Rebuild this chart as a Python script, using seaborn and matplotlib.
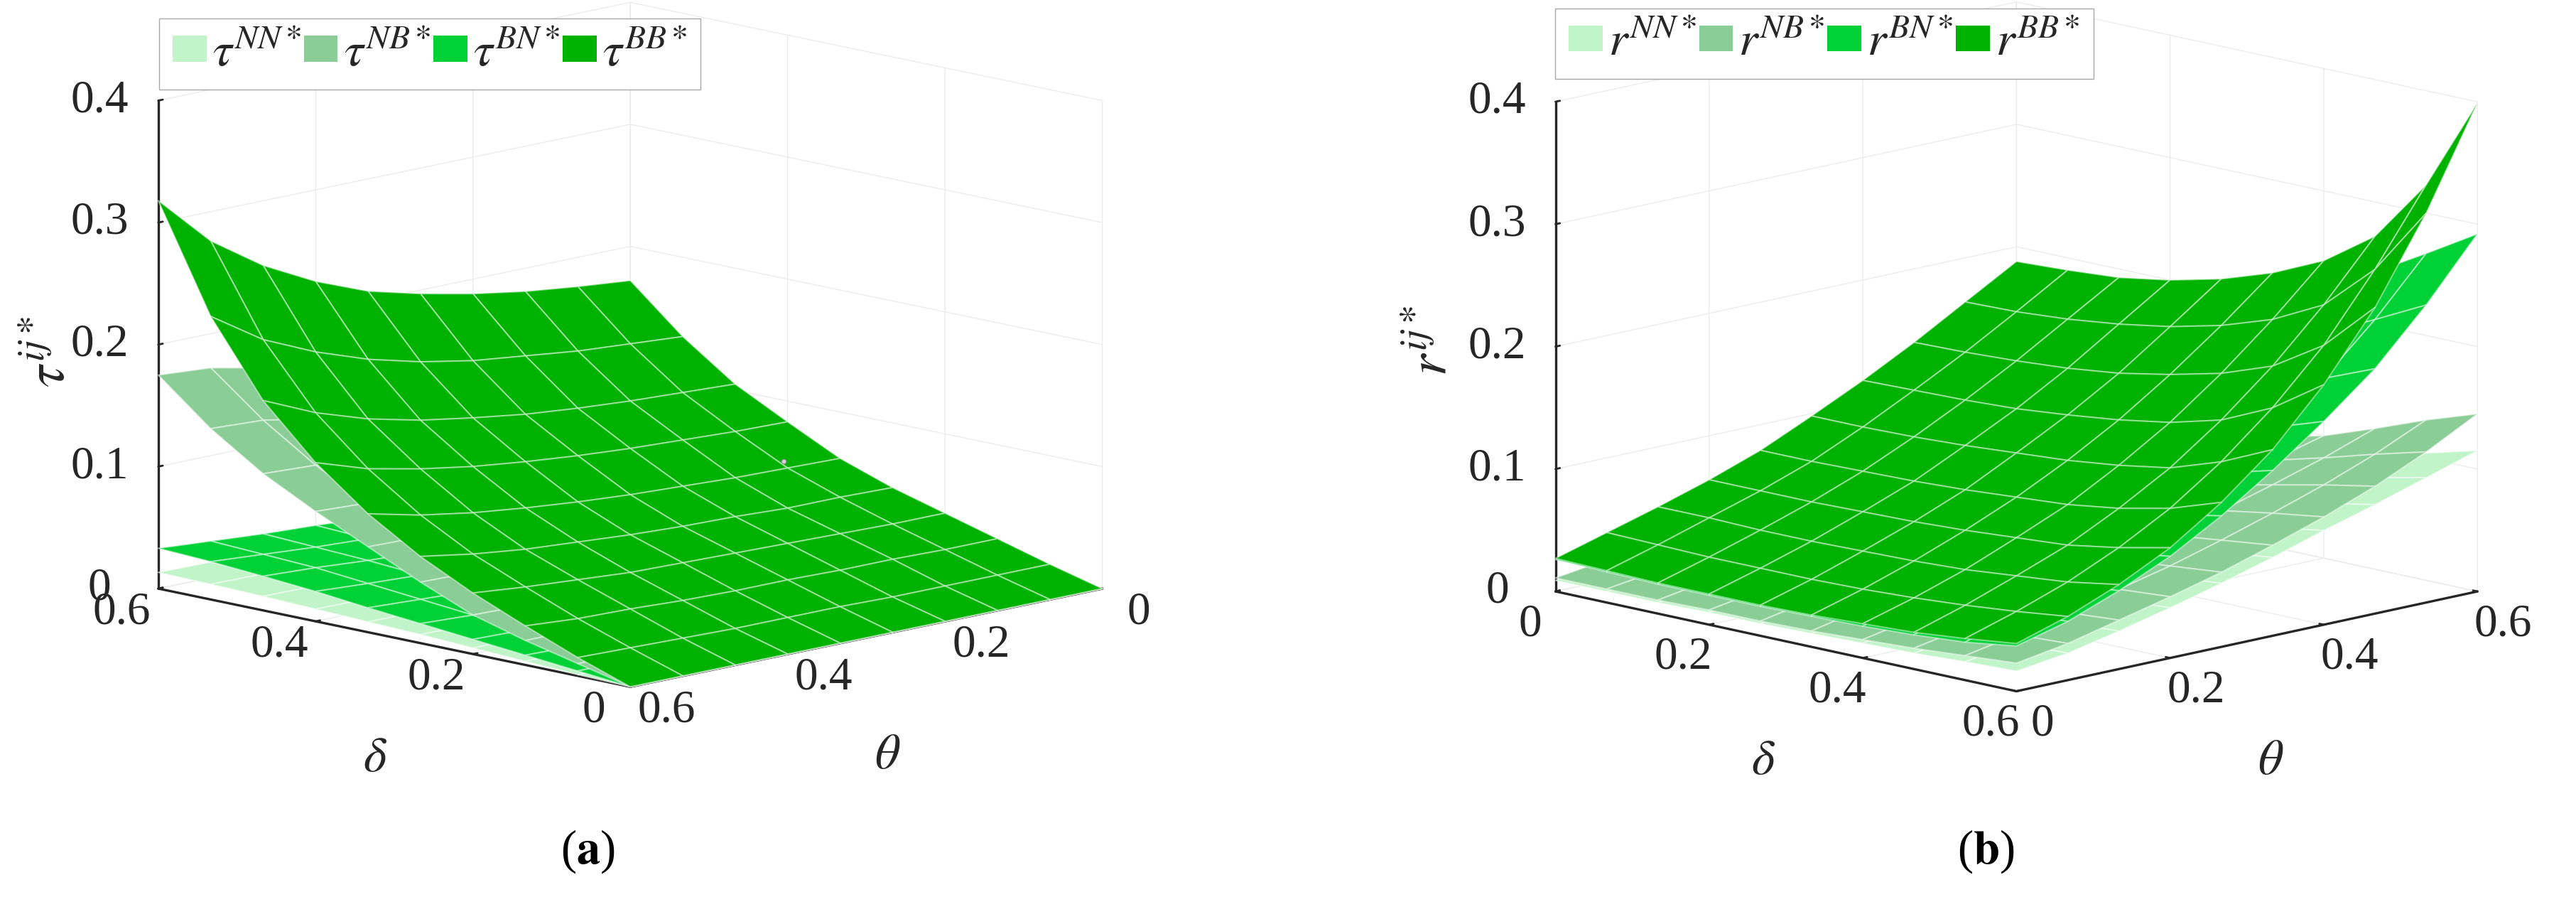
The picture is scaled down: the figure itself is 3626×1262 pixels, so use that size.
import numpy as np
import matplotlib
matplotlib.use('Agg')
import matplotlib.pyplot as plt
from matplotlib.patches import Patch
import seaborn as sns

# Grid of the surfaces (rows are delta, columns are theta)
deltas = [0, 0.0667, 0.1333, 0.2, 0.2667, 0.3333, 0.4, 0.4667, 0.5333, 0.6]
thetas = [0, 0.0667, 0.1333, 0.2, 0.2667, 0.3333, 0.4, 0.4667, 0.5333, 0.6]

# Panel (a) values
tau_nn = [
    [0]*10,
    [.0005,.0005,.0006,.0007,.0007,.0008,.0008,.0009,.001,.001],
    [.0014,.0016,.0018,.002,.0021,.0024,.0025,.0027,.0029,.003],
    [.0023,.0026,.003,.0034,.0036,.0039,.0041,.0045,.0048,.005],
    [.0032,.0037,.0042,.0047,.005,.0055,.0058,.0063,.0067,.007],
    [.0038,.0045,.0051,.0058,.0061,.0067,.007,.0077,.0082,.0085],
    [.0045,.0053,.006,.0068,.0071,.0079,.0083,.009,.0096,.010],
    [.0052,.0061,.0069,.0078,.0082,.0091,.0095,.0104,.0111,.0115],
    [.0056,.0066,.0075,.0085,.0089,.0099,.0103,.0113,.012,.0125],
    [.006,.007,.008,.009,.0095,.0105,.011,.012,.0128,.0133],
]
tau_nb = [
    [0]*10,
    [.007,.007,.007,.008,.008,.008,.009,.009,.010,.010],
    [.014,.014,.015,.015,.016,.017,.017,.019,.020,.020],
    [.022,.022,.023,.024,.025,.027,.028,.030,.031,.032],
    [.034,.035,.036,.038,.039,.041,.044,.047,.049,.050],
    [.048,.049,.051,.053,.055,.058,.061,.065,.069,.070],
    [.062,.063,.065,.068,.071,.075,.079,.084,.088,.090],
    [.077,.079,.081,.084,.088,.093,.098,.104,.110,.112],
    [.096,.098,.102,.106,.110,.116,.122,.130,.138,.140],
    [.120,.123,.127,.132,.138,.145,.153,.163,.172,.175],
]
tau_bn = [
    [0]*10,
    [.001,.001,.002,.002,.002,.003,.003,.003,.004,.004],
    [.002,.003,.003,.004,.005,.005,.006,.006,.007,.008],
    [.003,.004,.005,.006,.007,.008,.009,.010,.011,.012],
    [.004,.005,.007,.008,.009,.011,.012,.013,.014,.016],
    [.005,.007,.009,.010,.012,.013,.015,.016,.018,.020],
    [.006,.008,.010,.013,.014,.016,.018,.020,.022,.0245],
    [.007,.009,.012,.014,.016,.019,.021,.023,.026,.028],
    [.008,.010,.013,.016,.018,.021,.023,.025,.028,.031],
    [.008,.011,.014,.017,.019,.022,.025,.027,.030,.033],
]
tau_bb = [
    [0]*10,
    [.011,.011,.011,.011,.012,.012,.012,.013,.014,.015],
    [.023,.023,.024,.024,.025,.025,.026,.028,.029,.032],
    [.035,.035,.036,.037,.038,.039,.040,.043,.046,.050],
    [.047,.048,.048,.050,.051,.053,.056,.059,.064,.071],
    [.062,.063,.064,.066,.068,.071,.075,.080,.087,.097],
    [.083,.084,.086,.088,.091,.095,.100,.107,.116,.130],
    [.105,.107,.109,.112,.116,.122,.129,.139,.153,.172],
    [.135,.138,.141,.146,.151,.159,.170,.185,.204,.232],
    [.172,.176,.181,.188,.197,.208,.225,.247,.276,.318],
]
# stray marker on the top surface of panel (a)
dot_delta, dot_theta, dot_value = [0.335], [0.07], [0.069]

# Panel (b) values
r_nn = [
    [.009,.013,.018,.022,.026,.030,.034,.038,.041,.044],
    [.009,.013,.018,.022,.026,.030,.035,.039,.042,.045],
    [.009,.014,.019,.023,.027,.032,.036,.041,.044,.048],
    [.010,.014,.020,.024,.029,.034,.039,.044,.049,.053],
    [.010,.015,.021,.026,.032,.038,.044,.049,.055,.060],
    [.011,.016,.023,.029,.036,.042,.050,.057,.063,.070],
    [.012,.018,.025,.032,.039,.047,.056,.064,.072,.080],
    [.013,.019,.027,.035,.044,.053,.063,.072,.082,.092],
    [.015,.021,.029,.038,.048,.059,.070,.081,.093,.104],
    [.0165,.022,.031,.041,.052,.064,.077,.089,.102,.115],
]
r_nb = [
    [.011,.017,.023,.030,.037,.045,.050,.055,.058,.060],
    [.011,.017,.023,.030,.037,.045,.050,.055,.058,.060],
    [.011,.018,.024,.031,.038,.047,.052,.058,.062,.065],
    [.012,.019,.025,.032,.040,.048,.054,.061,.066,.070],
    [.012,.020,.027,.035,.043,.052,.059,.067,.073,.080],
    [.013,.022,.029,.037,.045,.055,.063,.072,.081,.090],
    [.015,.023,.031,.039,.048,.059,.068,.078,.089,.100],
    [.017,.025,.034,.043,.053,.064,.075,.087,.100,.115],
    [.020,.028,.037,.047,.057,.069,.082,.096,.112,.131],
    [.023,.030,.040,.050,.061,.074,.088,.104,.123,.145],
]
r_bn = [
    [.026,.032,.040,.050,.060,.072,.088,.105,.125,.150],
    [.025,.032,.040,.051,.061,.073,.090,.107,.127,.153],
    [.024,.033,.041,.052,.063,.076,.092,.110,.132,.158],
    [.024,.034,.043,.054,.065,.079,.097,.116,.138,.166],
    [.024,.035,.045,.056,.069,.084,.103,.124,.148,.178],
    [.025,.037,.048,.060,.075,.092,.113,.135,.162,.195],
    [.026,.040,.051,.066,.083,.102,.125,.150,.182,.218],
    [.028,.042,.056,.072,.091,.113,.139,.167,.202,.243],
    [.031,.045,.060,.077,.099,.124,.152,.183,.222,.267],
    [.037,.048,.064,.083,.107,.135,.166,.200,.243,.292],
]
r_bb = [
    [.027,.039,.051,.064,.079,.098,.118,.140,.164,.188],
    [.026,.038,.051,.064,.079,.098,.119,.141,.165,.190],
    [.025,.037,.050,.064,.080,.099,.120,.143,.168,.193],
    [.025,.037,.050,.065,.081,.101,.122,.146,.173,.200],
    [.025,.037,.051,.066,.083,.104,.126,.151,.180,.210],
    [.026,.038,.052,.068,.086,.107,.131,.159,.190,.224],
    [.028,.040,.054,.071,.089,.112,.138,.169,.204,.243],
    [.030,.043,.058,.074,.095,.119,.149,.184,.225,.272],
    [.034,.047,.062,.081,.104,.133,.168,.210,.263,.323],
    [.039,.052,.069,.090,.118,.152,.196,.250,.318,.399],
]

xy_ticks = [0, 0.2, 0.4, 0.6]
xy_labels = ['0', '0.2', '0.4', '0.6']
z_ticks = [0, 0.1, 0.2, 0.3, 0.4]
z_labels = ['0', '0.1', '0.2', '0.3', '0.4']
pair_names = ['NN', 'NB', 'BN', 'BB']
surface_colors = sns.color_palette(['#c1f4c8', '#8bcd96', '#00d136', '#00b200'])

sns.set_theme(style='white')
plt.rcParams['font.family'] = ['Liberation Serif', 'DejaVu Serif']
plt.rcParams['mathtext.fontset'] = 'stix'
plt.rcParams['grid.color'] = '#ececec'
plt.rcParams['grid.linewidth'] = 1.0

W, H = 3626, 1262
fig = plt.figure(figsize=(W / 100, H / 100), dpi=100, facecolor='white')


def draw_panel(rect, azim, elev, aspect, surfaces, order, symbol, letter, z_side, xy_pad, xy_va,
               legend_xy, caption_xy, delta_xy, theta_xy, zlabel_xy):
    ax = fig.add_axes([rect[0] / W, rect[1] / H, rect[2] / W, rect[2] / H], projection='3d')
    ax.computed_zorder = False
    ax.patch.set_alpha(0)
    ax.set_proj_type('ortho')
    ax.view_init(elev=elev, azim=azim)
    ax.set_box_aspect(aspect)

    X, Y = np.meshgrid(deltas, thetas, indexing='ij')
    for i in order:
        ax.plot_surface(X, Y, np.array(surfaces[i]), rstride=1, cstride=1, color=surface_colors[i],
                        shade=False, edgecolor=(1, 1, 1, 0.45), linewidth=1.5, zorder=3 + order.index(i))

    ax.set_xlim(0, 0.6)
    ax.set_ylim(0, 0.6)
    ax.set_zlim(0, 0.4)
    ax.set_xticks(xy_ticks)
    ax.set_xticklabels(xy_labels, fontsize=47, color='#262626', ha='center', va=xy_va)
    ax.set_yticks(xy_ticks)
    ax.set_yticklabels(xy_labels, fontsize=47, color='#262626', ha='center', va=xy_va)
    ax.set_zticks(z_ticks)
    ax.set_zticklabels(z_labels, fontsize=47, color='#262626', ha='center', va='center')
    ax.zaxis.set_ticks_position(z_side)
    ax.tick_params(axis='x', pad=xy_pad)
    ax.tick_params(axis='y', pad=xy_pad)
    ax.tick_params(axis='z', pad=26)

    for axis in (ax.xaxis, ax.yaxis, ax.zaxis):
        axis.set_pane_color((1, 1, 1, 0))
        axis.pane.set_edgecolor((1, 1, 1, 0))
        axis.line.set_color('#262626')
        axis.line.set_linewidth(2.4)
        axis._axinfo['tick']['inward_factor'] = 0
        axis._axinfo['tick']['outward_factor'] = 0.12
        axis._axinfo['tick']['linewidth'] = {True: 2, False: 1}

    fig.text(delta_xy[0] / W, 1 - delta_xy[1] / H, r'$\delta$', fontsize=50, ha='center', va='center')
    fig.text(theta_xy[0] / W, 1 - theta_xy[1] / H, r'$\theta$', fontsize=50, ha='center', va='center')
    fig.text(zlabel_xy[0] / W, 1 - zlabel_xy[1] / H, r'$%s^{ij*}$' % symbol, fontsize=56,
             rotation=90, ha='center', va='center')

    handles = [Patch(facecolor=surface_colors[k], edgecolor='none') for k in range(4)]
    labels = [r'$%s^{%s*}$' % (symbol, n) for n in pair_names]
    fig.legend(handles, labels, loc='upper left', bbox_to_anchor=(legend_xy[0] / W, 1 - legend_xy[1] / H),
               ncol=4, fontsize=49, frameon=True, fancybox=False, edgecolor='#a8a8a8', framealpha=1,
               handlelength=0.7, handleheight=0.45, handletextpad=0.12, columnspacing=0.06,
               borderpad=0.28, borderaxespad=0, labelspacing=0)
    fig.text(caption_xy[0] / W, 1 - caption_xy[1] / H, r'($\mathbf{%s}$)' % letter, fontsize=48,
             ha='center', va='center', color='black')
    return ax


ax_a = draw_panel((138, 28, 1459), 135, 12, (1, 1, 0.747), [tau_nn, tau_nb, tau_bn, tau_bb], [0, 2, 1, 3],
                  r'\tau', 'a', 'upper', 34, 'bottom', (224, 26), (827, 1198), (528, 1068), (1249, 1064), (72, 495))
ax_a.scatter(dot_delta, dot_theta, dot_value, s=22, c='#d8d0d8', edgecolors='#909090', linewidths=0.8,
             depthshade=False, zorder=10)
ax_b = draw_panel((2102, 38, 1434), -45, 12.5, (1, 1, 0.769), [r_nn, r_nb, r_bn, r_bb], [0, 1, 2, 3],
                  'r', 'b', 'lower', 22, 'center', (2189, 12), (2795, 1198), (2482, 1072), (3196, 1072), (2018, 480))

fig.savefig('out.png', dpi=100, facecolor='white')
